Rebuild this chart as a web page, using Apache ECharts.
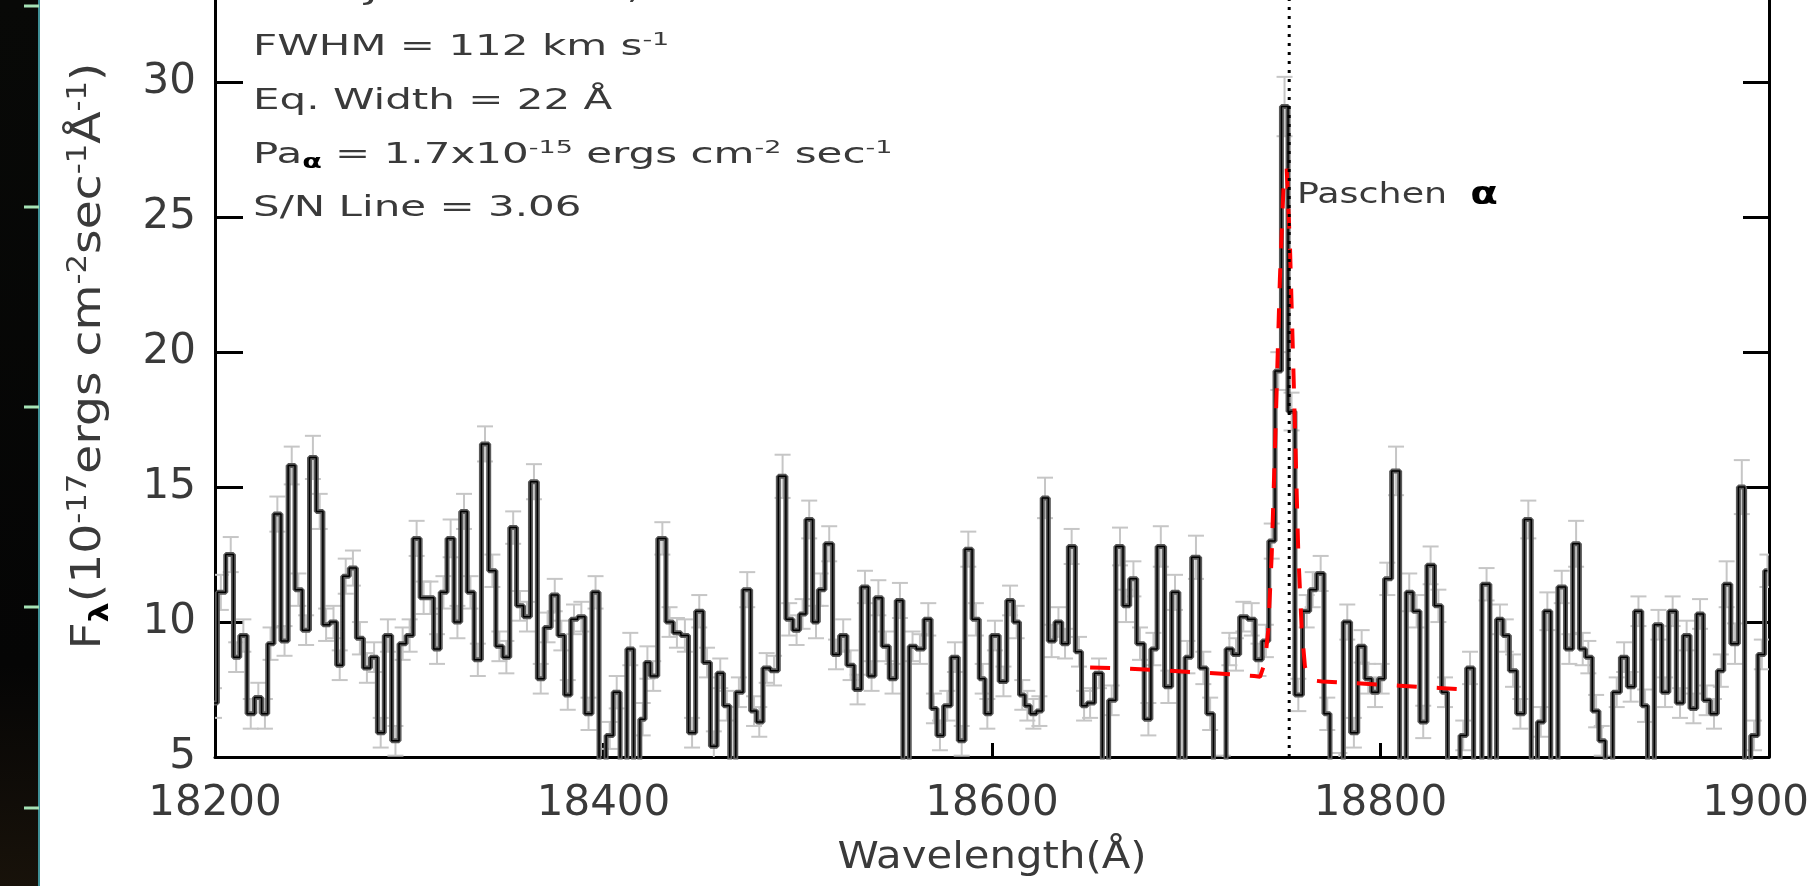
<!DOCTYPE html>
<html>
<head>
<meta charset="utf-8">
<script src="https://cdn.jsdelivr.net/npm/echarts@6/dist/echarts.min.js"></script>
<style>
  html, body { margin: 0; padding: 0; background: #fff; }
  #chart { width: 1809px; height: 886px; }
</style>
</head>
<body>
<div id="chart"></div>
<script>
// binned spectrum, wavelength in Angstrom
var wave = [
  18199.5, 18203.0, 18208.1, 18210.9, 18214.6, 18218.4, 18222.3, 18225.7, 18228.6, 18232.1,
  18235.8, 18239.5, 18242.9, 18246.9, 18250.4, 18253.9, 18257.2, 18261.0, 18264.2, 18267.3,
  18271.0, 18274.6, 18278.2, 18281.9, 18285.3, 18289.0, 18292.9, 18296.6, 18300.2, 18303.8,
  18307.4, 18310.9, 18314.3, 18317.6, 18321.3, 18324.8, 18328.2, 18331.5, 18335.3, 18339.0,
  18342.8, 18346.4, 18350.0, 18353.5, 18357.0, 18360.6, 18364.2, 18367.7, 18371.2, 18374.9,
  18378.3, 18381.6, 18384.8, 18388.6, 18392.3, 18395.9, 18399.5, 18403.2, 18406.8, 18410.3,
  18413.8, 18417.2, 18420.2, 18422.6, 18425.6, 18430.3, 18434.0, 18437.8, 18441.9, 18445.6,
  18449.3, 18453.3, 18456.8, 18460.1, 18463.5, 18466.5, 18469.7, 18474.0, 18477.5, 18480.2,
  18484.0, 18487.8, 18492.2, 18495.6, 18499.4, 18502.5, 18505.9, 18509.4, 18511.8, 18516.2,
  18519.7, 18523.4, 18527.2, 18530.8, 18534.6, 18538.0, 18541.5, 18545.4, 18548.8, 18552.6,
  18555.7, 18559.1, 18562.9, 18567.2, 18570.1, 18573.2, 18577.0, 18580.9, 18584.4, 18587.8,
  18591.7, 18595.2, 18597.6, 18601.5, 18605.9, 18609.3, 18612.7, 18615.6, 18618.2, 18621.3,
  18624.4, 18627.3, 18630.7, 18634.2, 18637.6, 18641.0, 18644.8, 18647.4, 18650.5, 18655.1,
  18658.5, 18661.6, 18665.9, 18669.0, 18672.8, 18676.2, 18680.5, 18683.1, 18686.9, 18690.8,
  18694.2, 18698.2, 18700.6, 18705.0, 18708.8, 18712.3, 18715.7, 18718.8, 18722.2, 18725.6,
  18729.4, 18733.7, 18737.2, 18741.0, 18744.0, 18747.4, 18750.6, 18754.2, 18757.7, 18762.0,
  18765.1, 18769.2, 18772.6, 18775.4, 18778.8, 18782.9, 18786.3, 18790.3, 18793.7, 18797.2,
  18800.6, 18803.5, 18808.0, 18811.7, 18814.8, 18818.6, 18822.0, 18825.8, 18829.8, 18833.2,
  18835.8, 18839.3, 18842.6, 18846.1, 18849.8, 18854.6, 18858.0, 18861.5, 18864.5, 18868.2,
  18872.0, 18876.1, 18879.1, 18882.5, 18885.9, 18889.4, 18893.3, 18897.2, 18900.7, 18904.1,
  18907.0, 18911.0, 18913.9, 18917.5, 18921.6, 18925.4, 18928.8, 18932.8, 18936.2, 18938.8,
  18943.1, 18946.5, 18950.4, 18954.2, 18957.6, 18961.1, 18964.5, 18967.9, 18971.7, 18975.2,
  18978.2, 18982.5, 18986.0, 18988.9, 18992.3, 18996.3, 18999.2
];
var flux = [
  7.0, 11.1, 12.5, 8.7, 9.5, 6.6, 7.2, 6.6, 9.2, 14.0,
  9.3, 15.8, 11.2, 9.7, 16.1, 14.1, 9.9, 10.0, 8.4, 11.7,
  12.0, 9.4, 8.3, 8.7, 5.9, 9.5, 5.6, 9.2, 9.5, 13.1,
  10.9, 10.9, 9.0, 11.1, 13.1, 10.0, 14.1, 11.1, 8.6, 16.6,
  11.9, 9.1, 8.7, 13.5, 10.6, 10.2, 15.2, 7.9, 9.8, 11.0,
  9.5, 7.3, 10.1, 10.2, 6.6, 11.1, 4.2, 5.8, 7.4, 4.0,
  9.0, 3.5, 6.4, 8.5, 8.0, 13.1, 10.0, 9.6, 9.5, 5.9,
  10.4, 8.5, 5.4, 8.1, 6.9, 4.0, 7.4, 11.2, 6.7, 6.3,
  8.3, 8.2, 15.4, 10.1, 9.7, 10.3, 13.8, 10.0, 11.2, 12.9,
  8.8, 9.5, 8.4, 7.5, 11.3, 8.0, 10.9, 9.1, 7.9, 10.8,
  3.5, 9.1, 9.0, 10.1, 6.8, 5.8, 6.9, 8.7, 5.6, 12.7,
  10.1, 7.9, 6.6, 9.5, 7.8, 10.8, 10.0, 7.3, 6.9, 6.6,
  6.7, 14.6, 9.3, 10.0, 9.2, 12.8, 8.9, 6.9, 7.0, 8.1,
  4.0, 7.1, 12.8, 10.6, 11.6, 9.2, 6.4, 9.0, 12.8, 7.6,
  11.1, 3.5, 8.7, 12.4, 8.3, 6.6, 3.8, 4.5, 9.0, 8.8,
  10.2, 10.1, 8.6, 9.3, 13.0, 19.3, 29.1, 17.8, 7.3, 10.4,
  11.2, 11.8, 6.6, 4.2, 4.6, 10.0, 5.9, 9.1, 7.9, 7.4,
  7.9, 11.6, 15.6, 3.5, 11.1, 10.4, 6.3, 12.1, 10.6, 7.4,
  4.0, 4.2, 5.8, 8.3, 3.5, 11.4, 3.8, 10.1, 9.5, 8.2,
  6.6, 13.8, 3.5, 6.3, 10.4, 3.5, 11.3, 9.0, 12.9, 9.0,
  8.7, 6.7, 5.6, 3.8, 7.4, 8.7, 7.6, 10.4, 6.9, 3.8,
  9.9, 7.4, 10.4, 7.0, 9.5, 6.8, 10.3, 7.1, 6.6, 8.2,
  11.4, 9.2, 15.0, 3.8, 5.8, 8.8, 11.9
];
var fluxErr = [
  0.55, 0.65, 0.65, 0.55, 0.6, 0.55, 0.55, 0.55, 0.6, 0.65,
  0.55, 0.7, 0.6, 0.55, 0.8, 0.65, 0.6, 0.6, 0.55, 0.65,
  0.65, 0.6, 0.55, 0.55, 0.55, 0.6, 0.55, 0.6, 0.6, 0.65,
  0.6, 0.6, 0.55, 0.6, 0.7, 0.6, 0.65, 0.6, 0.6, 0.65,
  0.6, 0.55, 0.6, 0.6, 0.55, 0.55, 0.65, 0.55, 0.55, 0.6,
  0.55, 0.55, 0.55, 0.55, 0.6, 0.6, 0.55, 0.5, 0.6, 0.55,
  0.6, 0.55, 0.6, 0.6, 0.55, 0.6, 0.55, 0.55, 0.6, 0.55,
  0.6, 0.55, 0.55, 0.55, 0.55, 0.55, 0.55, 0.65, 0.55, 0.55,
  0.55, 0.55, 0.8, 0.6, 0.55, 0.55, 0.7, 0.6, 0.6, 0.65,
  0.55, 0.6, 0.55, 0.55, 0.6, 0.55, 0.65, 0.55, 0.55, 0.65,
  0.55, 0.55, 0.55, 0.6, 0.55, 0.55, 0.55, 0.55, 0.55, 0.65,
  0.6, 0.55, 0.55, 0.55, 0.55, 0.55, 0.6, 0.55, 0.55, 0.55,
  0.55, 0.75, 0.6, 0.55, 0.55, 0.65, 0.55, 0.55, 0.55, 0.55,
  0.55, 0.55, 0.7, 0.6, 0.65, 0.6, 0.6, 0.6, 0.75, 0.6,
  0.65, 0.55, 0.6, 0.8, 0.6, 0.6, 0.55, 0.55, 0.6, 0.6,
  0.55, 0.6, 0.6, 0.6, 0.65, 0.7, 1.1, 0.7, 0.6, 0.6,
  0.65, 0.65, 0.6, 0.55, 0.55, 0.65, 0.55, 0.6, 0.55, 0.55,
  0.55, 0.6, 0.9, 0.55, 0.7, 0.6, 0.6, 0.7, 0.6, 0.55,
  0.55, 0.55, 0.55, 0.6, 0.55, 0.6, 0.55, 0.55, 0.6, 0.6,
  0.55, 0.7, 0.55, 0.55, 0.7, 0.55, 0.6, 0.55, 0.85, 0.6,
  0.6, 0.6, 0.55, 0.55, 0.55, 0.55, 0.55, 0.55, 0.6, 0.55,
  0.55, 0.55, 0.55, 0.55, 0.55, 0.55, 0.55, 0.55, 0.55, 0.6,
  0.85, 0.75, 1.0, 0.55, 0.55, 0.55, 0.6
];
// gaussian + continuum fit (red dashed)
var fitWave = [18650.5, 18670, 18690, 18710, 18725, 18735, 18738, 18740.5, 18742.2, 18744.0,
  18745.7, 18748.2, 18750.0, 18751.7, 18753.4, 18755.1, 18757.7, 18759.4, 18761.1, 18763.5,
  18770, 18790, 18810, 18830, 18843];
var fitFlux = [8.32, 8.27, 8.2, 8.12, 8.05, 8.0, 7.97, 8.5, 9.7, 12.5,
  16.5, 22.7, 26.0, 26.8, 23.9, 19.5, 12.5, 9.8, 8.35, 7.85,
  7.8, 7.72, 7.64, 7.56, 7.5];
var lineCenter = 18753;
var xRange = [18200, 19000];
var yRange = [5, 33.9];

var FONT = 'DejaVu Sans';
var TXT = '#3a3a3a';

var chart = echarts.init(document.getElementById('chart'));

var fluxData = wave.map(function (w, i) { return [w, flux[i]]; });
var errData = wave.map(function (w, i) { return [w, flux[i] - fluxErr[i], flux[i] + fluxErr[i]]; });
var fitData = fitWave.map(function (w, i) { return [w, fitFlux[i]]; });

function renderErr(params, api) {
    var lo = api.coord([api.value(0), api.value(1)]);
    var hi = api.coord([api.value(0), api.value(2)]);
    var st = { stroke: '#c6c6c6', lineWidth: 2 };
    return {
        type: 'group',
        children: [
            { type: 'line', shape: { x1: lo[0], y1: lo[1], x2: hi[0], y2: hi[1] }, style: st },
            { type: 'line', shape: { x1: lo[0] - 8, y1: lo[1], x2: lo[0] + 8, y2: lo[1] }, style: st },
            { type: 'line', shape: { x1: hi[0] - 8, y1: hi[1], x2: hi[0] + 8, y2: hi[1] }, style: st }
        ]
    };
}

var sup = { fontSize: 18, lineHeight: 14, verticalAlign: 'top', fill: TXT, fontFamily: FONT };
var sub = { fontSize: 19, lineHeight: 12, verticalAlign: 'bottom', fill: '#000', fontWeight: 'bold', fontFamily: FONT };

function note(y, text) {
    return {
        type: 'text', x: 253, y: y, scaleX: 1.5, z: 10,
        style: {
            text: text, fill: TXT, fontSize: 28, fontFamily: FONT,
            lineHeight: 34, verticalAlign: 'middle', align: 'left',
            rich: { sup: sup, sub: sub }
        }
    };
}

var greenTicks = [6, 207, 407, 607, 808].map(function (y) {
    return { type: 'rect', shape: { x: 24, y: y - 1.5, width: 15, height: 3 }, style: { fill: '#a6e3b6' }, z: 11 };
});

var option = {
    animation: false,
    backgroundColor: '#ffffff',
    grid: { left: 215, right: 40, top: -23, bottom: 129, outerBoundsMode: 'none' },
    xAxis: {
        type: 'value', min: xRange[0], max: xRange[1], interval: 200,
        axisLine: { show: true, onZero: false, lineStyle: { color: '#000', width: 3 } },
        axisTick: { show: true, inside: true, length: 14, lineStyle: { color: '#000', width: 3 } },
        axisLabel: { margin: 47, verticalAlign: 'middle', fontSize: 42, fontFamily: FONT, color: TXT,
            formatter: function (v) { return String(v); } },
        splitLine: { show: false }
    },
    yAxis: [{
        type: 'value', min: yRange[0], max: yRange[1], interval: 5, position: 'left',
        axisLine: { show: true, onZero: false, lineStyle: { color: '#000', width: 3 } },
        axisTick: { show: true, inside: true, length: 28, lineStyle: { color: '#000', width: 3 } },
        axisLabel: { margin: 19, fontSize: 42, fontFamily: FONT, color: TXT,
            formatter: function (v) { return v % 5 === 0 ? String(v) : ''; } },
        splitLine: { show: false }
    }, {
        type: 'value', min: yRange[0], max: yRange[1], interval: 5, position: 'right',
        axisLine: { show: true, onZero: false, lineStyle: { color: '#000', width: 3 } },
        axisTick: { show: true, inside: true, length: 26, lineStyle: { color: '#000', width: 3 } },
        axisLabel: { show: false },
        splitLine: { show: false }
    }],
    series: [{
        type: 'custom', renderItem: renderErr, data: errData, clip: true, silent: true, z: 1,
        encode: { x: 0, y: [1, 2] }
    }, {
        type: 'line', data: fluxData, step: 'middle', symbol: 'none', silent: true, z: 2,
        lineStyle: { color: '#5a5a5a', width: 5 }
    }, {
        type: 'line', data: fluxData, step: 'middle', symbol: 'none', silent: true, z: 3,
        lineStyle: { color: '#000', width: 1.5 }
    }, {
        type: 'line', data: fitData, symbol: 'none', silent: true, z: 4,
        lineStyle: { color: '#ff0000', width: 4, type: [20, 20] }
    }, {
        type: 'line', data: [[lineCenter, yRange[0]], [lineCenter, yRange[1]]], symbol: 'none', silent: true, z: 5,
        lineStyle: { color: '#000', width: 3, type: [3, 6] }
    }],
    graphic: [
        { type: 'rect', shape: { x: 0, y: 0, width: 39, height: 886 }, z: 10,
          style: { fill: new echarts.graphic.LinearGradient(0, 0, 0, 1, [
              { offset: 0, color: '#080907' }, { offset: 0.75, color: '#050505' }, { offset: 1, color: '#18120a' }]) } },
        { type: 'rect', shape: { x: 38, y: 0, width: 2, height: 886 }, style: { fill: '#3f8f96' }, z: 11 }
    ].concat(greenTicks).concat([
        note(-8, 'SDSSJ0906+5610, z=0.225'),
        note(48, 'FWHM = 112 km s{sup|-1}'),
        note(102, 'Eq. Width = 22 Å'),
        note(156, 'Pa{sub|α} = 1.7x10{sup|-15} ergs cm{sup|-2} sec{sup|-1}'),
        note(209, 'S/N Line = 3.06'),
        {
            type: 'text', x: 1297, y: 196, scaleX: 1.3, z: 10,
            style: { text: 'Paschen  {al|α}', fill: TXT, fontSize: 28, fontFamily: FONT, lineHeight: 34,
                verticalAlign: 'middle', align: 'left',
                rich: { al: { fontSize: 31, fontWeight: 'bold', fill: '#000', fontFamily: FONT } } }
        },
        {
            type: 'text', x: 992, y: 858, scaleX: 1.1, z: 10,
            style: { text: 'Wavelength(Å)', fill: TXT, fontSize: 38, fontFamily: FONT,
                verticalAlign: 'middle', align: 'center' }
        },
        {
            type: 'text', x: 90, y: 356, rotation: Math.PI / 2, scaleX: 1.18, z: 10,
            style: { text: 'F{sub|λ}(10{sup|-17}ergs cm{sup|-2}sec{sup|-1}Å{sup|-1})', fill: TXT,
                fontSize: 40, fontFamily: FONT, lineHeight: 48, verticalAlign: 'middle', align: 'center',
                rich: {
                    sup: { fontSize: 26, lineHeight: 20, verticalAlign: 'top', fill: TXT, fontFamily: FONT },
                    sub: { fontSize: 27, lineHeight: 16, verticalAlign: 'bottom', fill: '#000', fontWeight: 'bold', fontFamily: FONT }
                } }
        }
    ])
};

chart.setOption(option);
</script>
</body>
</html>
